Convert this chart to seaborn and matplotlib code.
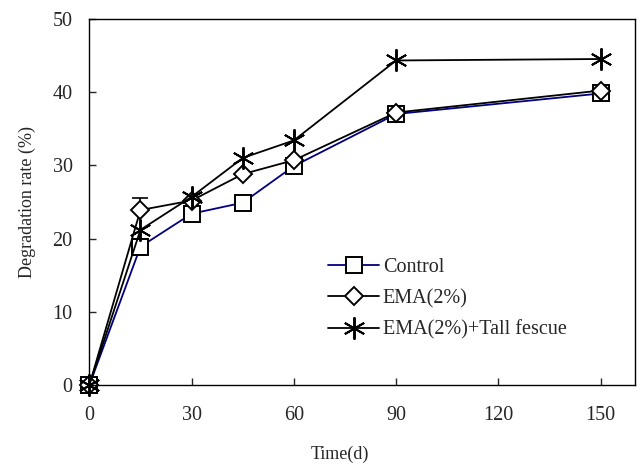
import numpy as np
import pandas as pd
import matplotlib
matplotlib.use('Agg')
import matplotlib.pyplot as plt
import seaborn as sns

# dados
days = [0, 15, 30, 45, 60, 90, 150]
control = [0, 18.9, 23.4, 24.9, 29.9, 37.0, 39.8]
ema = [0, 23.9, 25.2, 28.8, 30.7, 37.2, 40.2]
fescue = [0, 21.2, 25.7, 31.0, 33.4, 44.3, 44.5]
ema_err = [0, 1.6, 0, 0, 0, 0, 0]

sns.set_style('ticks')
plt.rcParams['font.family'] = ['Liberation Serif', 'DejaVu Serif']

fig, ax = plt.subplots(figsize=(6.38, 4.67), dpi=100)

series = [
    ('Control', control, 's', '#000080', 11),
    ('EMA(2%)', ema, 'D', 'black', 9.5),
    ('EMA(2%)+Tall fescue', fescue, (6, 2, 0), 'black', 16),
]
for name, vals, mk, col, ms in series:
    sns.lineplot(x=days, y=vals, ax=ax, label=name, color=col, marker=mk,
                 markersize=ms, markerfacecolor='white', markeredgecolor='black',
                 markeredgewidth=1.4, linewidth=1.3, clip_on=False)

# barra de erro visivel (EMA, 15 d)
ax.errorbar(days[1], ema[1], yerr=[[0], [ema_err[1]]], fmt='none',
            ecolor='black', elinewidth=1.2, capsize=6, capthick=1.2, zorder=1)

ax.set_xlim(0, 160)
ax.set_ylim(0, 50)
ax.set_xticks([0, 30, 60, 90, 120, 150])
ax.set_yticks([0, 10, 20, 30, 40, 50])
ax.tick_params(direction='in', length=5, width=1, labelsize=14.5)
ax.tick_params(axis='y', pad=12)
ax.tick_params(axis='x', pad=15)
for s in ax.spines.values():
    s.set_visible(True)
    s.set_linewidth(1)
    s.set_color('black')

ax.set_xlabel('Time(d)', fontsize=13)
ax.set_ylabel('Degradation rate (%)', fontsize=13)
ax.xaxis.set_label_coords(0.46, -0.165)
ax.yaxis.set_label_coords(-0.098, 0.5)

ax.legend(loc='upper left', bbox_to_anchor=(0.405, 0.397), frameon=False,
          fontsize=14.5, handlelength=2.5, handletextpad=0.2, labelspacing=0.6)

fig.subplots_adjust(left=0.14, right=0.995, top=0.96, bottom=0.175)
fig.savefig('out.png', dpi=100)
